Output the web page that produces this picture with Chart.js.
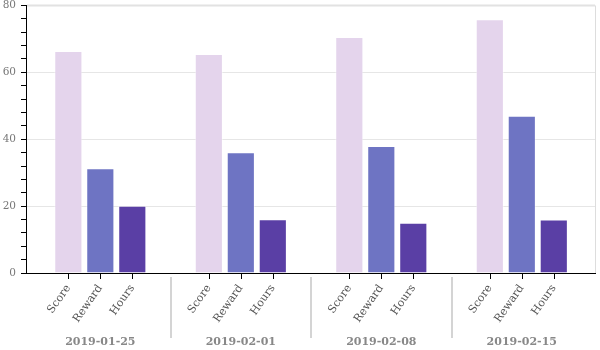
<!DOCTYPE html>
<html>
<head>
<meta charset="utf-8">
<script src="https://cdn.jsdelivr.net/npm/chart.js@4"></script>
<style>
html,body{margin:0;padding:0;background:#fff;}
#wrap{width:600px;height:350px;}
</style>
</head>
<body>
<div id="wrap"><canvas id="c" width="600" height="350"></canvas></div>
<script>
const dates = ['2019-01-25', '2019-02-01', '2019-02-08', '2019-02-15'];
const seriesNames = ['Score', 'Reward', 'Hours'];
const scoreValues = [66.4, 65.5, 70.6, 75.9];
const rewardValues = [31.3, 36.1, 38.0, 47.0];
const hoursValues = [20.1, 16.1, 15.0, 16.0];
const yTicks = [0, 20, 40, 60, 80];

const colors = ['#e4d4ec', '#6e74c3', '#5a3fa5'];
const allValues = [scoreValues, rewardValues, hoursValues];

const datasets = seriesNames.map((name, k) => ({
  label: name,
  data: allValues[k].map((v, i) => ({x: i, y: v})),
  backgroundColor: colors[k],
  borderColor: 'rgba(255,255,255,0.45)',
  borderWidth: 1,
  categoryPercentage: 0.683,
  barPercentage: 0.88
}));

const decor = {
  id: 'decor',
  afterDraw(chart) {
    const ctx = chart.ctx;
    const a = chart.chartArea;
    const xs = chart.scales.x;
    ctx.save();
    // frame top and right
    ctx.strokeStyle = '#e2e2e2';
    ctx.lineWidth = 2;
    ctx.beginPath();
    ctx.moveTo(a.left + 1, a.top);
    ctx.lineTo(a.right, a.top);
    ctx.stroke();
    ctx.lineWidth = 1;
    ctx.strokeStyle = '#dddddd';
    ctx.beginPath();
    ctx.moveTo(a.right + 0.5, a.top);
    ctx.lineTo(a.right + 0.5, a.bottom);
    ctx.stroke();
    // separators
    ctx.strokeStyle = '#d4d4d4';
    ctx.lineWidth = 2;
    for (let i = 0; i < dates.length - 1; i++) {
      const sx = Math.round(xs.getPixelForValue(i + 0.5));
      ctx.beginPath();
      ctx.moveTo(sx, a.bottom + 4);
      ctx.lineTo(sx, a.bottom + 65);
      ctx.stroke();
    }
    // ticks and rotated labels per bar
    ctx.font = '11px "DejaVu Serif"';
    ctx.fillStyle = '#555';
    ctx.textAlign = 'right';
    ctx.textBaseline = 'middle';
    chart.data.datasets.forEach((ds, k) => {
      const meta = chart.getDatasetMeta(k);
      meta.data.forEach((bar) => {
        const bx = Math.round(bar.x) + 0.5;
        ctx.strokeStyle = '#000';
        ctx.lineWidth = 1;
        ctx.beginPath();
        ctx.moveTo(bx, a.bottom);
        ctx.lineTo(bx, a.bottom + 6);
        ctx.stroke();
        ctx.save();
        ctx.translate(bar.x, a.bottom + 13);
        ctx.rotate(-55 * Math.PI / 180);
        ctx.fillText(ds.label, 0, 0);
        ctx.restore();
      });
    });
    ctx.restore();
  }
};

new Chart(document.getElementById('c'), {
  type: 'bar',
  data: { datasets },
  options: {
    responsive: false,
    animation: false,
    layout: { padding: { left: 0, right: 5, top: 0, bottom: 0 } },
    plugins: { legend: { display: false }, tooltip: { enabled: false } },
    scales: {
      x: {
        type: 'linear',
        offset: false,
        min: -0.529,
        max: 3.521,
        afterBuildTicks: (axis) => { axis.ticks = dates.map((d, i) => ({ value: i })); },
        afterFit: (s) => { s.height = 77; s.paddingLeft = 0; s.paddingRight = 0; },
        grid: { display: true, drawOnChartArea: false, drawTicks: false, offset: false },
        border: { display: true, color: '#000', width: 1 },
        ticks: {
          autoSkip: false,
          maxRotation: 0,
          padding: 63,
          color: '#888',
          font: { family: 'DejaVu Serif', size: 11, weight: 'bold' },
          callback: (v) => dates[v]
        }
      },
      y: {
        min: 0,
        max: 80,
        afterFit: (s) => { s.width = 26; s.paddingTop = 5.5; },
        ticks: {
          stepSize: 4,
          autoSkip: false,
          padding: 5,
          color: '#777',
          font: { family: 'DejaVu Serif', size: 10.5 },
          callback: (v) => (yTicks.includes(v) ? String(v) : '')
        },
        grid: {
          color: (c) => (c.tick && yTicks.includes(c.tick.value) ? '#e6e6e6' : 'rgba(0,0,0,0)'),
          tickColor: '#000',
          tickLength: 5
        },
        border: { display: true, color: '#000', width: 1 }
      }
    }
  },
  plugins: [decor]
});
</script>
</body>
</html>
